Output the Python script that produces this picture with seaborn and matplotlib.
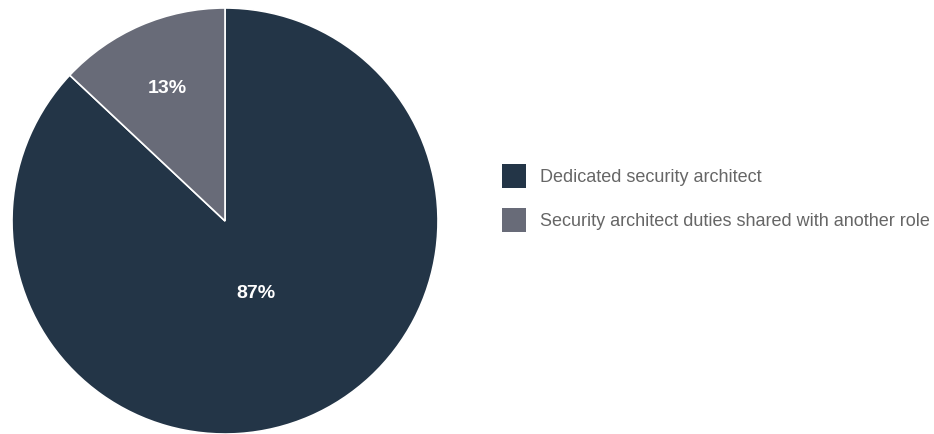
import numpy as np
import matplotlib
matplotlib.use("Agg")
import matplotlib.pyplot as plt
from matplotlib.patches import Patch
import seaborn as sns

categories = ["Dedicated security architect",
              "Security architect duties shared with another role"]
shares = [87, 13]
slice_colors = ["#233547", "#686b78"]
label_radius = [0.37, 0.68]

sns.set_theme(style="white")
plt.rcParams["font.family"] = ["Liberation Sans", "DejaVu Sans"]

fig = plt.figure(figsize=(9.34, 4.34), dpi=100)
# square axes: 426 x 426 px
ax = fig.add_axes([12 / 934, 0 / 434, 426 / 934, 426 / 434])

wedges, _ = ax.pie(shares, colors=slice_colors, startangle=90, counterclock=False,
                   radius=1.0, wedgeprops=dict(edgecolor="white", linewidth=1.2))
ax.set_xlim(-1, 1)
ax.set_ylim(-1, 1)
ax.set_aspect("equal")
ax.axis("off")

for w, val, r in zip(wedges, shares, label_radius):
    mid = np.deg2rad((w.theta1 + w.theta2) / 2)
    ax.text(r * np.cos(mid), r * np.sin(mid), f"{val}%", color="white",
            fontsize=14, fontweight="bold", ha="center", va="center")

handles = [Patch(facecolor=c, edgecolor="none") for c in slice_colors]
leg = fig.legend(handles, categories, loc="center left",
                 bbox_to_anchor=(502 / 934, 1 - 198 / 434), frameon=False,
                 fontsize=13, handlelength=1.33, handleheight=1.67,
                 handletextpad=0.78, labelspacing=1.1, borderpad=0, borderaxespad=0)
for t in leg.get_texts():
    t.set_color("#666666")

fig.savefig("out.png", dpi=100)
